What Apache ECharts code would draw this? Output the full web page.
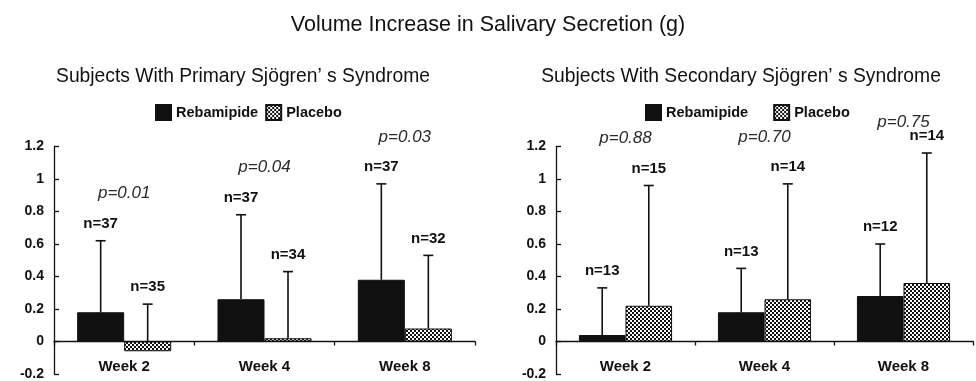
<!DOCTYPE html>
<html>
<head>
<meta charset="utf-8">
<script src="https://cdn.jsdelivr.net/npm/echarts@6/dist/echarts.min.js"></script>
<style>
html,body{margin:0;padding:0;background:#fff;}
#chart{width:976px;height:381px;}
</style>
</head>
<body>
<div id="chart"></div>
<script>
// ---- data ----
const categories = ['Week 2', 'Week 4', 'Week 8'];
const seriesNames = ['Rebamipide', 'Placebo'];

const primaryRebamipide = [0.18, 0.26, 0.38];
const primaryPlacebo = [-0.06, 0.02, 0.08];
const primaryRebamipideUpper = [0.62, 0.78, 0.97];
const primaryPlaceboUpper = [0.23, 0.43, 0.53];
const primaryRebamipideN = [37, 37, 37];
const primaryPlaceboN = [35, 34, 32];
const primaryP = ['0.01', '0.04', '0.03'];

const secondaryRebamipide = [0.04, 0.18, 0.28];
const secondaryPlacebo = [0.22, 0.26, 0.36];
const secondaryRebamipideUpper = [0.33, 0.45, 0.60];
const secondaryPlaceboUpper = [0.96, 0.97, 1.16];
const secondaryRebamipideN = [13, 13, 12];
const secondaryPlaceboN = [15, 14, 14];
const secondaryP = ['0.88', '0.70', '0.75'];

const yMin = -0.2, yMax = 1.2, yInterval = 0.2;

const mainTitle = 'Volume Increase in Salivary Secretion (g)';
const subTitles = ['Subjects With Primary Sjögren\u2019 s Syndrome', 'Subjects With Secondary Sjögren\u2019 s Syndrome'];

// ---- styles ----
const FONT = '"Liberation Sans", Arial, Helvetica, sans-serif';
const INK = '#111111';
const GAP = 0.33;

function checker() {
  const c = document.createElement('canvas');
  c.width = 4; c.height = 4;
  const g = c.getContext('2d');
  g.fillStyle = '#ffffff'; g.fillRect(0, 0, 4, 4);
  g.fillStyle = '#111111';
  g.fillRect(0, 0, 2, 2); g.fillRect(2, 2, 2, 2);
  return c;
}
const pattern = { image: checker(), repeat: 'repeat' };

function errRender(side) {
  return function (params, api) {
    const i = api.value(0), mean = api.value(1), up = api.value(2), n = api.value(3);
    const band = api.size([1, 0])[0];
    const bw = band * (1 - GAP) / 2;
    const cx = api.coord([i, 0])[0] + side * bw / 2;
    const yTop = api.coord([i, up])[1];
    const yBase = api.coord([i, Math.max(mean, 0)])[1];
    const ls = { stroke: INK, lineWidth: 1.6 };
    return {
      type: 'group',
      children: [
        { type: 'line', shape: { x1: cx, y1: yBase, x2: cx, y2: yTop }, style: ls },
        { type: 'line', shape: { x1: cx - 5, y1: yTop, x2: cx + 5, y2: yTop }, style: ls },
        { type: 'text', style: { text: 'n=' + n, x: cx, y: yTop - 17, align: 'center', verticalAlign: 'middle',
          font: 'bold 15px ' + FONT, fill: INK } }
      ]
    };
  };
}

function makePRender(pv) {
  return function (params, api) {
    const i = api.value(0), top = api.value(1);
    const cx = api.coord([i, 0])[0];
    const gridTop = api.coord([i, yMax])[1];
    const y = Math.max(api.coord([i, top])[1] - 47, gridTop - 24);
    return {
      type: 'text',
      style: { text: 'p=' + pv[i], x: cx, y: y, align: 'center', verticalAlign: 'middle',
        font: 'italic 17px ' + FONT, fill: '#2a2a2a' }
    };
  };
}

function panelSeries(idx, reb, pla, rebUp, plaUp, rebN, plaN, pv) {
  const xi = idx * 2;
  return [
    { name: seriesNames[0], type: 'bar', xAxisIndex: xi, yAxisIndex: idx, data: reb,
      barGap: '0%', barCategoryGap: (GAP * 100) + '%',
      itemStyle: { color: INK, borderColor: INK, borderWidth: 1 } },
    { name: seriesNames[1], type: 'bar', xAxisIndex: xi, yAxisIndex: idx, data: pla,
      barGap: '0%', barCategoryGap: (GAP * 100) + '%',
      itemStyle: { color: pattern, borderColor: INK, borderWidth: 1 } },
    { type: 'custom', xAxisIndex: xi, yAxisIndex: idx, z: 5, renderItem: errRender(-1),
      data: categories.map((c, i) => [i, reb[i], rebUp[i], rebN[i]]) },
    { type: 'custom', xAxisIndex: xi, yAxisIndex: idx, z: 5, renderItem: errRender(1),
      data: categories.map((c, i) => [i, pla[i], plaUp[i], plaN[i]]) },
    { type: 'custom', xAxisIndex: xi, yAxisIndex: idx, z: 5, renderItem: makePRender(pv),
      data: categories.map((c, i) => [i, Math.max(rebUp[i], plaUp[i])]) }
  ];
}

const grids = [
  { left: 54, top: 146.5, width: 421, height: 227.5, outerBoundsMode: 'none', containLabel: false },
  { left: 556, top: 146.5, width: 417, height: 227.5, outerBoundsMode: 'none', containLabel: false }
];

// axis line + ticks at zero
function xAxisLine(idx) {
  return {
    type: 'category', gridIndex: idx, data: categories, boundaryGap: true,
    axisLine: { onZero: true, lineStyle: { color: INK, width: 1.3 } },
    axisTick: { show: true, length: 4, lineStyle: { color: INK, width: 1.3 } },
    axisLabel: { show: false },
    splitLine: { show: false }
  };
}
// category labels just below the zero line
function xAxisLabels(idx) {
  return {
    type: 'category', gridIndex: idx, data: categories, boundaryGap: true, position: 'bottom',
    axisLine: { show: false, onZero: false }, axisTick: { show: false },
    axisLabel: { margin: -15, verticalAlign: 'top', color: INK, fontFamily: FONT, fontWeight: 'bold', fontSize: 15 },
    splitLine: { show: false }
  };
}
function yAxis(idx) {
  return {
    type: 'value', gridIndex: idx, min: yMin, max: yMax, interval: yInterval,
    axisLine: { show: true, onZero: false, lineStyle: { color: INK, width: 1.3 } },
    axisTick: { show: true, inside: true, length: 5, lineStyle: { color: INK, width: 1.3 } },
    axisLabel: { margin: 10, color: INK, fontFamily: FONT, fontWeight: 'bold', fontSize: 14 },
    splitLine: { show: false }
  };
}

const legendText = { color: INK, fontFamily: FONT, fontWeight: 'bold', fontSize: 14.5 };

const option = {
  backgroundColor: '#ffffff',
  animation: false,
  title: [
    { text: mainTitle, left: 'center', top: 9,
      textStyle: { color: INK, fontFamily: FONT, fontWeight: 'normal', fontSize: 21.5 } },
    { text: subTitles[0], left: 238, top: 62, textAlign: 'center',
      textStyle: { color: INK, fontFamily: FONT, fontWeight: 'normal', fontSize: 19.3 } },
    { text: subTitles[1], left: 736, top: 62, textAlign: 'center',
      textStyle: { color: INK, fontFamily: FONT, fontWeight: 'normal', fontSize: 19.3 } }
  ],
  legend: [
    { data: seriesNames, left: 150, top: 99, itemWidth: 15, itemHeight: 15, itemGap: 7, textStyle: legendText,
      icon: 'rect' },
    { data: seriesNames, left: 640, top: 99, itemWidth: 15, itemHeight: 15, itemGap: 25, textStyle: legendText,
      icon: 'rect' }
  ],
  grid: grids,
  xAxis: [xAxisLine(0), xAxisLabels(0), xAxisLine(1), xAxisLabels(1)],
  yAxis: [yAxis(0), yAxis(1)],
  series: [].concat(
    panelSeries(0, primaryRebamipide, primaryPlacebo, primaryRebamipideUpper, primaryPlaceboUpper,
      primaryRebamipideN, primaryPlaceboN, primaryP),
    panelSeries(1, secondaryRebamipide, secondaryPlacebo, secondaryRebamipideUpper, secondaryPlaceboUpper,
      secondaryRebamipideN, secondaryPlaceboN, secondaryP)
  )
};

const chart = echarts.init(document.getElementById('chart'), null, { renderer: 'canvas' });
chart.setOption(option);
</script>
</body>
</html>
